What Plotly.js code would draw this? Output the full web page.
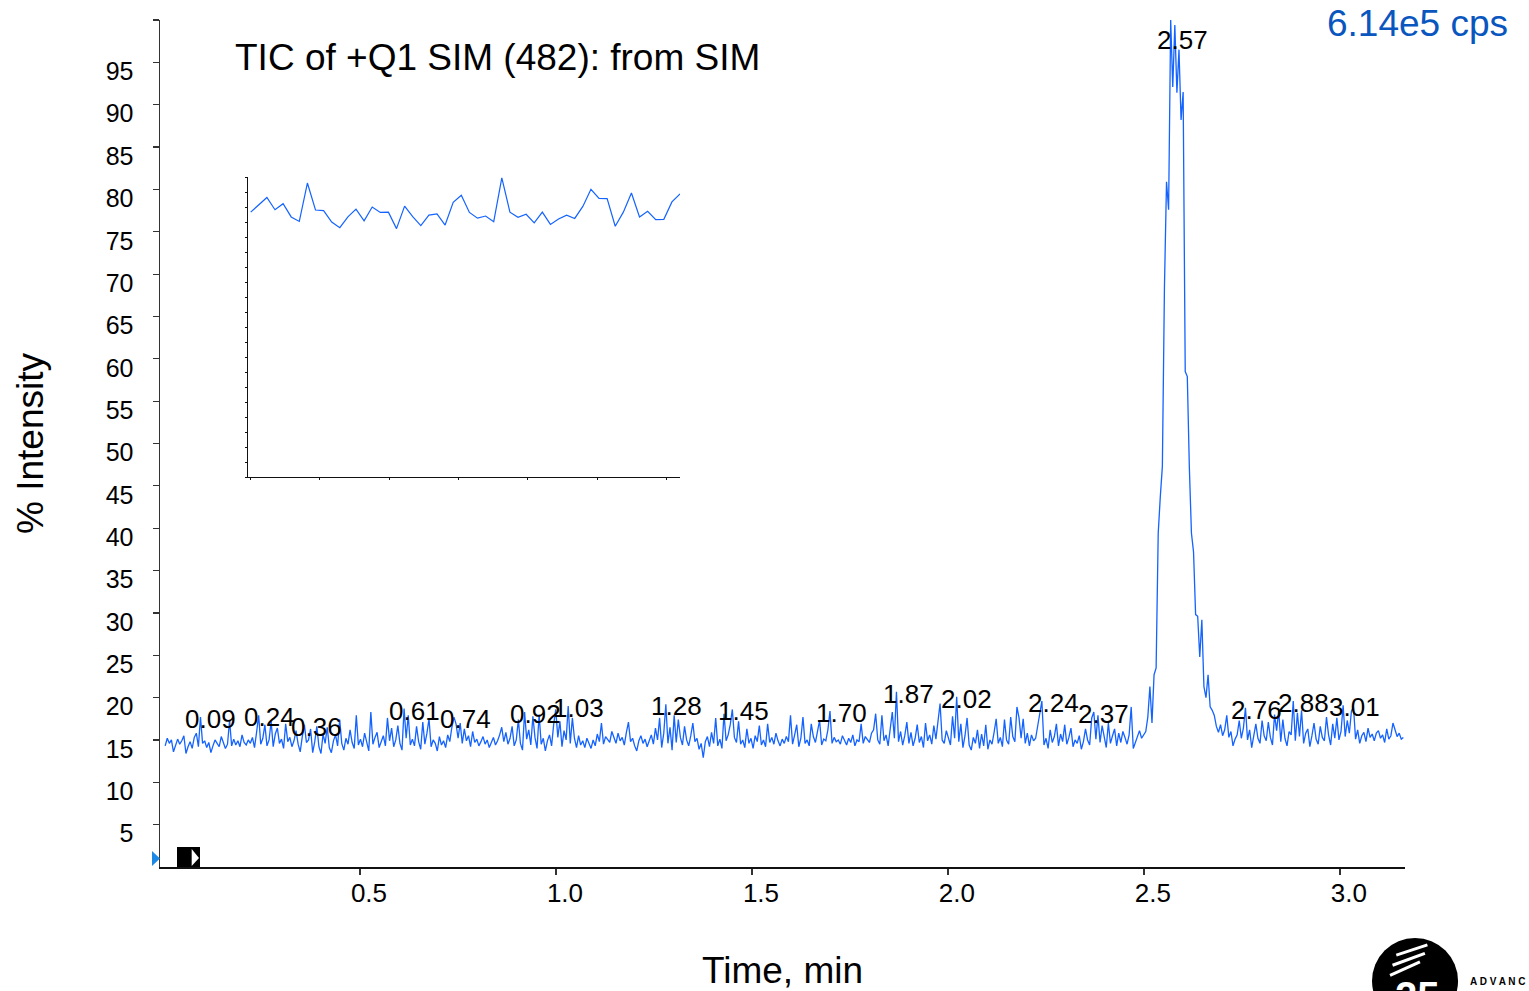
<!DOCTYPE html>
<html>
<head>
<meta charset="utf-8">
<script src="https://cdn.plot.ly/plotly-3.0.1.min.js"></script>
<style>html,body{margin:0;padding:0;background:#fff;}#chart{width:1529px;height:991px;}</style>
</head>
<body>
<div id="chart"></div>
<script>
// ---- Data (% intensity, scans every ~0.0053 min from 0.003 min) ----
const scanStart = 0.003;
const scanInterval = 0.0053;
const intensity = [
14.3,15.2,14.6,15.0,13.6,14.4,15.1,14.5,14.9,15.5,13.4,14.2,14.8,14.0,15.3,15.8,14.2,17.7,14.6,14.9,
14.1,14.7,13.5,14.3,15.0,14.6,14.2,15.4,14.8,14.0,14.5,17.3,14.3,15.1,14.4,14.9,14.2,15.6,14.7,14.4,
15.0,14.6,15.3,14.1,15.9,17.9,14.5,15.2,16.8,14.3,15.0,17.2,14.2,15.7,16.4,14.6,15.1,14.0,16.9,14.8,
15.3,14.2,14.9,16.1,14.5,13.6,15.4,16.8,14.7,15.0,16.3,13.5,14.8,16.6,14.2,13.4,15.7,14.6,16.5,14.1,
13.5,14.9,15.6,14.3,17.4,14.6,13.8,15.2,14.5,16.2,14.7,14.0,17.9,14.4,15.1,14.2,15.8,14.6,13.7,18.3,
14.5,15.3,15.9,14.1,14.8,15.5,14.3,17.6,14.9,16.4,14.2,15.0,16.7,14.6,13.8,18.7,15.2,17.9,14.4,15.1,
14.3,16.6,14.8,13.9,17.1,14.5,15.8,17.5,14.2,15.0,14.6,13.7,15.4,14.4,14.9,14.1,15.6,14.8,16.5,17.7,
16.9,15.2,17.0,14.6,16.3,14.9,15.5,14.2,16.0,14.7,15.1,14.3,14.8,15.4,14.5,15.0,14.1,14.7,15.3,14.4,
14.9,15.6,16.5,14.8,15.9,14.5,15.2,16.6,14.3,15.0,17.4,14.6,13.8,18.3,15.1,16.2,14.4,17.8,15.3,14.0,
18.0,14.5,15.2,13.7,14.9,15.6,14.3,16.8,18.6,15.3,17.2,14.2,16.1,15.0,19.0,14.6,17.6,15.2,14.1,15.5,
14.4,14.9,14.1,15.2,14.6,14.0,15.0,14.3,15.7,14.8,17.0,14.5,15.4,15.1,14.7,16.0,15.2,14.6,15.8,14.9,
15.3,14.4,15.9,17.1,14.8,15.2,14.3,13.7,14.9,15.5,14.6,15.1,14.2,14.8,15.6,14.5,16.4,15.0,17.6,14.1,
15.8,19.2,14.6,16.5,13.8,17.9,14.7,17.4,15.3,14.4,16.6,15.0,14.3,15.5,17.0,14.8,15.2,13.9,14.6,12.9,
14.8,15.4,14.2,15.9,14.6,17.6,14.3,15.1,14.0,18.1,14.9,15.6,16.8,18.6,15.3,14.7,17.2,14.5,15.0,14.1,
16.3,14.6,15.2,14.0,15.5,14.8,16.7,14.4,15.0,14.2,16.9,14.7,15.3,14.5,15.8,14.9,14.3,15.1,14.6,15.4,
14.8,17.9,14.5,15.6,16.8,14.2,15.2,17.7,14.6,15.0,14.3,16.9,15.4,14.7,15.8,17.3,14.4,15.1,14.9,16.2,
18.4,14.6,15.3,14.8,15.0,14.5,15.5,14.9,14.4,15.2,14.7,15.6,14.3,15.0,14.8,16.9,14.6,15.4,15.1,14.7,
15.8,16.2,18.1,15.0,14.5,17.9,14.9,15.6,14.3,16.4,18.3,15.2,20.7,14.8,16.0,14.4,15.5,17.1,14.6,15.9,
14.3,15.2,16.8,14.7,15.4,14.1,17.0,14.9,15.6,14.5,16.7,15.1,17.5,19.3,15.0,14.6,16.1,15.3,14.4,17.8,
15.2,20.1,14.8,16.9,14.1,15.5,17.6,14.4,13.8,15.3,14.6,16.2,14.0,15.7,14.3,16.8,13.9,15.0,14.5,15.9,
17.5,14.6,15.3,14.2,17.4,15.0,14.5,17.7,15.4,14.8,18.9,17.6,15.2,17.5,14.6,15.8,14.3,15.6,14.9,15.2,
16.6,18.2,19.6,14.4,15.2,14.0,16.2,14.7,15.4,16.9,14.3,15.7,14.8,16.8,14.5,15.3,16.4,14.2,15.0,14.6,
15.5,13.9,14.8,16.3,15.0,14.4,17.6,18.3,15.1,17.9,14.7,16.7,15.2,14.1,17.0,14.6,15.5,16.3,14.3,15.8,
14.7,16.0,15.3,14.5,15.6,18.9,14.0,14.8,15.4,16.1,15.2,15.7,
16.0,17.7,21.3,17.0,22.7,23.5,39.4,43.7,47.3,68.4,80.9,77.6,100,92.1,99.4,91.4,96.5,88.2,91.5,58.5,
57.9,47.1,39.4,37.2,29.8,29.6,24.8,29.2,21.3,20.0,22.7,18.9,18.5,17.9,
16.6,15.9,16.8,15.5,16.2,17.9,15.3,16.0,14.3,15.1,15.6,17.3,15.2,16.4,18.8,15.0,16.2,14.1,15.4,16.9,
15.2,14.6,17.3,15.5,14.9,17.1,15.3,14.4,18.0,16.1,18.5,14.8,17.4,15.2,14.3,16.0,15.6,19.6,14.9,18.2,
15.4,18.5,14.6,15.8,16.3,14.2,15.5,17.0,15.1,14.5,16.6,15.3,14.9,17.7,15.6,14.4,16.9,15.2,17.6,15.0,
16.0,19.1,15.4,17.3,15.8,18.4,18.9,15.1,16.2,14.6,15.5,15.9,14.8,16.4,15.3,15.7,14.9,15.8,16.1,15.2,
15.6,14.7,16.3,15.1,15.5,17.0,16.2,15.4,15.8,15.1,15.3
];

// Labelled peak apexes (retention time, min / apex % intensity)
const peakTimes   = [0.09,0.24,0.36,0.61,0.74,0.92,1.03,1.28,1.45,1.70,1.87,2.02,2.24,2.37,2.57,2.76,2.88,3.01];
const peakHeights = [17.7,17.9,16.8,18.7,17.7,18.3,19.0,19.2,18.6,18.4,20.7,20.1,19.6,18.3,100,18.8,19.6,19.1];

// Inset trace (relative intensity, %)
const insetValues = [88.3,90.6,93.2,89.1,91.1,86.7,85.2,98.0,89.0,88.8,85.0,83.1,86.7,89.3,85.4,90.0,88.2,88.3,82.8,90.3,
86.8,83.8,87.3,87.7,84.0,91.6,93.9,88.2,86.3,87.0,85.1,99.7,88.3,86.6,87.6,84.7,88.3,84.2,86.0,87.3,
86.2,90.2,95.9,92.9,92.8,83.6,88.3,94.7,86.7,88.6,85.8,85.9,91.7,94.4];

const xTickVals = [0.5,1.0,1.5,2.0,2.5,3.0];
const yTickVals = [5,10,15,20,25,30,35,40,45,50,55,60,65,70,75,80,85,90,95,100];
const yTickText = ['5','10','15','20','25','30','35','40','45','50','55','60','65','70','75','80','85','90','95',''];

const titleText = 'TIC of +Q1 SIM (482): from SIM';
const maxCpsText = '6.14e5 cps';

// ---- Build chart ----
const FONT = 'Liberation Sans, Arial, Helvetica, sans-serif';
const LINE = '#1463ff';
const times = intensity.map((_, i) => scanStart + i * scanInterval);
const insetX = insetValues.map((_, i) => i);

const traces = [
  {x: times, y: intensity, type: 'scatter', mode: 'lines',
   line: {color: LINE, width: 1.3}, hoverinfo: 'x+y', xaxis: 'x', yaxis: 'y'},
  {x: insetX, y: insetValues, type: 'scatter', mode: 'lines',
   line: {color: LINE, width: 1.2}, hoverinfo: 'y', xaxis: 'x2', yaxis: 'y2'}
];

const annotations = peakTimes.map((t, k) => ({
  x: t, y: Math.min(peakHeights[k], 97.9), xref: 'x', yref: 'y',
  text: t.toFixed(2), showarrow: false, xshift: 11, yshift: -2,
  xanchor: 'center', yanchor: 'middle',
  font: {family: FONT, size: 26, color: '#000'}
}));

annotations.push({
  xref: 'paper', yref: 'paper', x: 0.0586, y: 0.9563, xanchor: 'left', yanchor: 'middle',
  text: titleText, showarrow: false, font: {family: FONT, size: 37, color: '#000'}
});
annotations.push({
  xref: 'paper', yref: 'paper', x: 1.0843, y: 0.9953, xanchor: 'right', yanchor: 'middle',
  text: maxCpsText, showarrow: false, font: {family: FONT, size: 37, color: '#0a56bf'}
});
// logo fragment bottom right
annotations.push({
  xref: 'paper', yref: 'paper', x: 1.0104, y: -0.152, xanchor: 'center', yanchor: 'middle',
  text: '<b>25</b>', showarrow: false, font: {family: FONT, size: 40, color: '#fff'}
});
annotations.push({
  xref: 'paper', yref: 'paper', x: 1.0506, y: -0.135, xanchor: 'left', yanchor: 'middle',
  text: '<b>A D V A N C</b>', showarrow: false, font: {family: FONT, size: 10, color: '#000'}
});

const shapes = [
  // logo circle
  {type: 'circle', xref: 'paper', yref: 'paper', x0: 0.9735, x1: 1.0426, y0: -0.1854, y1: -0.0838,
   fillcolor: '#000', line: {width: 0}, layer: 'above'},
  {type: 'line', xref: 'paper', yref: 'paper', x0: 0.993, y0: -0.104, x1: 1.018, y1: -0.092, line: {color: '#fff', width: 3}},
  {type: 'line', xref: 'paper', yref: 'paper', x0: 0.990, y0: -0.116, x1: 1.016, y1: -0.102, line: {color: '#fff', width: 3}},
  {type: 'line', xref: 'paper', yref: 'paper', x0: 0.988, y0: -0.128, x1: 1.012, y1: -0.112, line: {color: '#fff', width: 3}},
  // cursor markers bottom-left
  {type: 'path', xref: 'paper', yref: 'paper', path: 'M -0.00643 0.01889 L 0 0.01004 L -0.00643 0.00118 Z',
   fillcolor: '#1e88e5', line: {width: 0}},
  {type: 'rect', xref: 'paper', yref: 'paper', x0: 0.01365, x1: 0.03213, y0: 0, y1: 0.02361,
   fillcolor: '#000', line: {width: 0}},
  {type: 'path', xref: 'paper', yref: 'paper', path: 'M 0.02544 0.02125 L 0.03133 0.01063 L 0.02544 0.00118 Z',
   fillcolor: '#fff', line: {width: 0}}
];

const layout = {
  width: 1529, height: 991,
  margin: {l: 160, r: 124, t: 20, b: 124, pad: 0},
  paper_bgcolor: '#fff', plot_bgcolor: '#fff',
  showlegend: false,
  font: {family: FONT, color: '#000'},
  xaxis: {
    range: [-0.0102, 3.166], tickvals: xTickVals, ticktext: xTickVals.map(v => v.toFixed(1)),
    showgrid: false, zeroline: false, showline: true, linecolor: '#111', linewidth: 1.5,
    ticks: 'outside', ticklen: 6, tickcolor: '#333', tickwidth: 1.2,
    tickfont: {family: FONT, size: 26, color: '#000'}, ticklabelshift: 9, ticklabelstandoff: -4,
    title: {text: 'Time, min', font: {family: FONT, size: 37, color: '#000'}, standoff: 53},
    automargin: false, anchor: 'y'
  },
  yaxis: {
    range: [0, 100], tickvals: yTickVals, ticktext: yTickText,
    showgrid: false, zeroline: false, showline: true, linecolor: '#333', linewidth: 1.5,
    ticks: 'outside', ticklen: 6, tickcolor: '#333', tickwidth: 1.2,
    tickfont: {family: FONT, size: 25, color: '#000'}, ticklabelshift: 9, ticklabelstandoff: 14,
    title: {text: '% Intensity', font: {family: FONT, size: 37, color: '#000'}, standoff: 50},
    automargin: false, anchor: 'x'
  },
  xaxis2: {
    domain: [0.0707, 0.4177], anchor: 'y2', range: [-0.33, 53.0],
    tick0: 8.55, dtick: 8.56, showticklabels: false,
    showgrid: false, zeroline: false, showline: true, linecolor: '#111', linewidth: 1,
    ticks: 'outside', ticklen: 2, tickcolor: '#111', tickwidth: 1
  },
  yaxis2: {
    domain: [0.4604, 0.8146], anchor: 'x2', range: [0, 100], dtick: 5, showticklabels: false,
    showgrid: false, zeroline: false, showline: true, linecolor: '#111', linewidth: 1,
    ticks: 'outside', ticklen: 2, tickcolor: '#111', tickwidth: 1
  },
  annotations: annotations,
  shapes: shapes
};

Plotly.newPlot('chart', traces, layout, {displayModeBar: false, staticPlot: true});
</script>
</body>
</html>
